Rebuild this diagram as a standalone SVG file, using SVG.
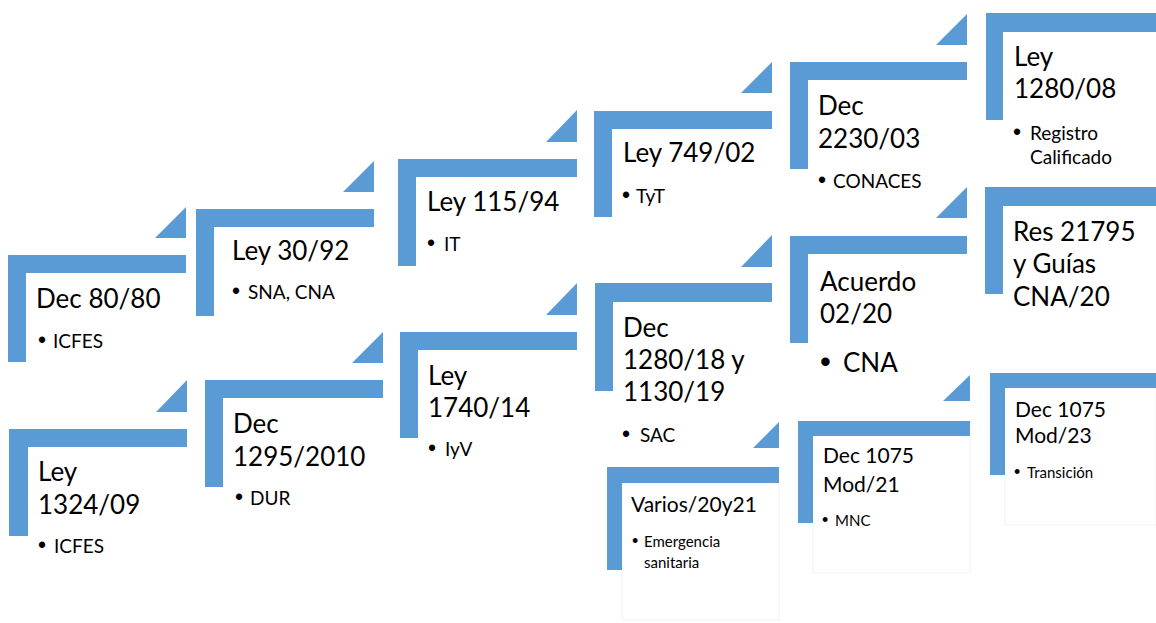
<svg xmlns="http://www.w3.org/2000/svg" width="1156" height="623" viewBox="0 0 1156 623">
<style>
.bar{fill:#5B9BD5}
.box{fill:#ffffff;stroke:#f3f3f3;stroke-width:1}
text{font-family:Lato,"Open Sans","Liberation Sans",sans-serif;fill:#000000}
.t{font-size:26px}
.b{font-size:19px}
.t3{font-size:21px}
.b3{font-size:15px}
.big{font-size:26px}
.d{font-family:"Liberation Sans",Arial,sans-serif;font-size:23px}
.d3{font-family:"Liberation Sans",Arial,sans-serif;font-size:18px}
.dbig{font-family:"Liberation Sans",Arial,sans-serif;font-size:31px}
</style>
<rect x="0" y="0" width="1156" height="623" fill="#ffffff"/>
<g id="connectors"></g>
<g id="step1">
<path class="bar" d="M8 255 H186 V273 H26 V362 H8 Z"/>
<path class="bar" d="M155 238 H186 V207 Z"/>
<text class="t" x="36" y="308">Dec 80/80</text>
<text class="b" y="348"><tspan class="d" x="38">•</tspan><tspan x="53">ICFES</tspan></text>
</g>
<g id="step2">
<path class="bar" d="M196 209 H374 V227 H214 V316 H196 Z"/>
<path class="bar" d="M343 192 H374 V161 Z"/>
<text class="t" x="232" y="260">Ley 30/92</text>
<text class="b" y="299"><tspan class="d" x="232">•</tspan><tspan x="248">SNA, CNA</tspan></text>
</g>
<g id="step3">
<path class="bar" d="M398 159 H577 V177 H416 V266 H398 Z"/>
<path class="bar" d="M546 142 H577 V110 Z"/>
<text class="t" x="427" y="211">Ley 115/94</text>
<text class="b" y="251"><tspan class="d" x="427">•</tspan><tspan x="444">IT</tspan></text>
</g>
<g id="step4">
<path class="bar" d="M594 111 H772 V129 H612 V217 H594 Z"/>
<path class="bar" d="M741 93 H772 V62 Z"/>
<text class="t" x="623" y="162">Ley 749/02</text>
<text class="b" y="203"><tspan class="d" x="622">•</tspan><tspan x="636">TyT</tspan></text>
</g>
<g id="step5">
<path class="bar" d="M790 62 H967 V80 H808 V169 H790 Z"/>
<path class="bar" d="M936 45 H967 V14 Z"/>
<text class="t" x="818" y="115">Dec</text>
<text class="t" x="818" y="148">2230/03</text>
<text class="b" y="188"><tspan class="d" x="818">•</tspan><tspan x="833">CONACES</tspan></text>
</g>
<g id="step6">
<path class="bar" d="M986 13 H1156 V32 H1003 V120 H986 Z"/>
<text class="t" x="1014" y="66">Ley</text>
<text class="t" x="1014" y="98">1280/08</text>
<text class="b" y="140"><tspan class="d" x="1013">•</tspan><tspan x="1030">Registro</tspan></text>
<text class="b" x="1030" y="164">Calificado</text>
</g>
<g id="step7">
<path class="bar" d="M9 429 H187 V447 H28 V536 H9 Z"/>
<path class="bar" d="M156 412 H187 V380 Z"/>
<text class="t" x="38" y="481">Ley</text>
<text class="t" x="38" y="514">1324/09</text>
<text class="b" y="553"><tspan class="d" x="38">•</tspan><tspan x="54">ICFES</tspan></text>
</g>
<g id="step8">
<path class="bar" d="M205 380 H383 V398 H223 V487 H205 Z"/>
<path class="bar" d="M352 363 H383 V332 Z"/>
<text class="t" x="233" y="433">Dec</text>
<text class="t" x="233" y="466">1295/2010</text>
<text class="b" y="505"><tspan class="d" x="235">•</tspan><tspan x="250">DUR</tspan></text>
</g>
<g id="step9">
<path class="bar" d="M400 332 H577 V350 H418 V438 H400 Z"/>
<path class="bar" d="M546 315 H577 V283 Z"/>
<text class="t" x="428" y="385">Ley</text>
<text class="t" x="428" y="417">1740/14</text>
<text class="b" y="456"><tspan class="d" x="428">•</tspan><tspan x="445">IyV</tspan></text>
</g>
<g id="step10">
<path class="bar" d="M595 283 H772 V302 H613 V391 H595 Z"/>
<path class="bar" d="M741 267 H772 V235 Z"/>
<text class="t" x="623" y="337">Dec</text>
<text class="t" x="623" y="369">1280/18 y</text>
<text class="t" x="623" y="401">1130/19</text>
<text class="b" y="442"><tspan class="d" x="622">•</tspan><tspan x="640">SAC</tspan></text>
</g>
<g id="step11">
<path class="bar" d="M790 236 H967 V254 H808 V343 H790 Z"/>
<path class="bar" d="M936 218 H967 V187 Z"/>
<text class="t" x="820" y="291">Acuerdo</text>
<text class="t" x="820" y="323">02/20</text>
<text class="big" y="372"><tspan class="dbig" x="820">•</tspan><tspan x="843">CNA</tspan></text>
</g>
<g id="step12">
<path class="bar" d="M985 187 H1156 V206 H1003 V294 H985 Z"/>
<text class="t" x="1013" y="241">Res 21795</text>
<text class="t" x="1013" y="273">y Guías</text>
<text class="t" x="1013" y="306">CNA/20</text>
</g>
<g id="step13">
<rect class="box" x="622" y="483" width="157" height="137"/>
<path class="bar" d="M607 467 H779 V483 H622 V570 H607 Z"/>
<path class="bar" d="M753 448 H779 V422 Z"/>
<text class="t3" x="631" y="512">Varios/20y21</text>
<text class="b3" y="547"><tspan class="d3" x="632">•</tspan><tspan x="644">Emergencia</tspan></text>
<text class="b3" x="644" y="568">sanitaria</text>
</g>
<g id="step14">
<rect class="box" x="813" y="436" width="157" height="137"/>
<path class="bar" d="M798 421 H970 V436 H813 V523 H798 Z"/>
<path class="bar" d="M943 401 H970 V375 Z"/>
<text class="t3" x="823" y="463">Dec 1075</text>
<text class="t3" x="823" y="492">Mod/21</text>
<text class="b3" y="526"><tspan class="d3" x="822">•</tspan><tspan x="835">MNC</tspan></text>
</g>
<g id="step15">
<rect class="box" x="1005" y="388" width="151" height="137"/>
<path class="bar" d="M990 373 H1156 V388 H1005 V475 H990 Z"/>
<text class="t3" x="1015" y="417">Dec 1075</text>
<text class="t3" x="1015" y="443">Mod/23</text>
<text class="b3" y="478"><tspan class="d3" x="1014">•</tspan><tspan x="1027">Transición</tspan></text>
</g>
</svg>
